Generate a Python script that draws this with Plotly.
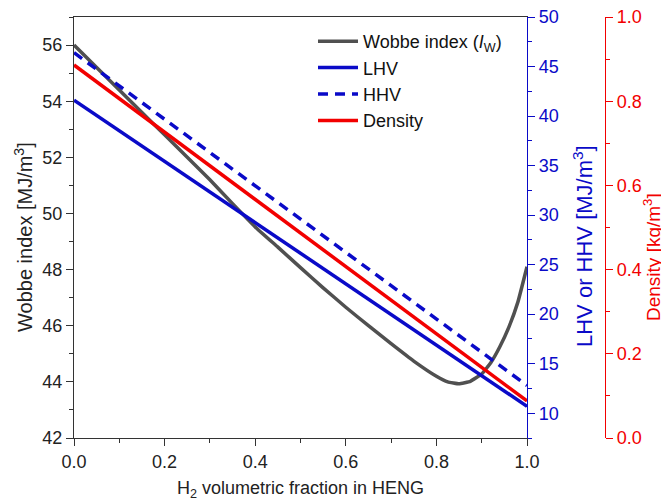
import plotly.graph_objects as go

# H2 fraction grid for Wobbe index curve
wobbe_x = [0.00, 0.05, 0.10, 0.15, 0.20, 0.25, 0.30, 0.35, 0.40, 0.45, 0.50, 0.55,
           0.60, 0.65, 0.70, 0.75, 0.80, 0.825, 0.85, 0.875, 0.90, 0.92, 0.94, 0.96, 0.98, 1.00]
wobbe_y = [56.0, 55.2, 54.4, 53.6, 52.8, 52.0, 51.2, 50.35, 49.52, 48.8, 48.07, 47.35,
           46.66, 46.0, 45.36, 44.74, 44.2, 44.0, 43.93, 44.02, 44.28, 44.68, 45.25, 45.95, 46.85, 48.1]

# straight-line series (endpoints)
frac_x = [0.0, 1.0]
lhv = [41.6, 10.7]
hhv = [46.4, 12.8]
density = [0.886, 0.088]

GREY = "#505050"
BLUE = "#0a0ac8"
RED = "#f20000"
FONT = "Liberation Sans, Arial, sans-serif"

fig = go.Figure()
fig.add_trace(go.Scatter(x=wobbe_x, y=wobbe_y, mode="lines", name="Wobbe index (<i>I</i><sub>W</sub>)",
                         line=dict(color=GREY, width=3.5, shape="spline", smoothing=0.3), yaxis="y"))
fig.add_trace(go.Scatter(x=frac_x, y=lhv, mode="lines", name="LHV",
                         line=dict(color=BLUE, width=3.5), yaxis="y2"))
fig.add_trace(go.Scatter(x=frac_x, y=hhv, mode="lines", name="HHV",
                         line=dict(color=BLUE, width=3.5, dash="10px,7px"), yaxis="y2"))
fig.add_trace(go.Scatter(x=frac_x, y=density, mode="lines", name="Density",
                         line=dict(color=RED, width=3.5), yaxis="y3"))

OFF = 8  # page body margin of the browser
W, H = 669 - OFF, 500 - OFF
# target screen pixels
S_LEFT, S_RIGHT, S_TOP, S_BOTTOM, S_RED = 74, 527, 17, 438, 605
ml = S_LEFT - OFF
mt = S_TOP - OFF
mb = H - (S_BOTTOM - OFF)
mr = 12
pw = W - ml - mr
ph = H - mt - mb
xend = (S_RIGHT - S_LEFT) / pw
redpos = (S_RED - S_LEFT) / pw


def px_x(s):
    return (s - OFF - ml) / pw


def px_y(s):
    return 1 - (s - OFF - mt) / ph


tickfont = dict(family=FONT, size=18, color="#222")
common = dict(showgrid=False, zeroline=False, automargin=False, ticks="outside", ticklen=7,
              tickwidth=1.3, ticklabeloverflow="allow")

fig.update_layout(
    width=W, height=H,
    margin=dict(l=ml, r=mr, t=mt, b=mb),
    plot_bgcolor="white", paper_bgcolor="white",
    font=dict(family=FONT, size=18, color="#222"),
    showlegend=True,
    legend=dict(x=px_x(313), y=px_y(23), xanchor="left", yanchor="top",
                font=dict(family=FONT, size=18, color="#111"), bgcolor="rgba(0,0,0,0)",
                tracegroupgap=0, itemwidth=40),
    xaxis=dict(domain=[0, xend], range=[0, 1], dtick=0.2, tick0=0, tickformat=".1f",
               showline=True, linecolor="#333", linewidth=1.3, mirror=True, tickcolor="#333",
               minor=dict(dtick=0.1, ticks="outside", ticklen=4, tickcolor="#333", tickwidth=1.3),
               tickfont=tickfont, **common),
    yaxis=dict(range=[42, 57], dtick=2, tick0=42, tickformat="d",
               showline=True, linecolor="#333", linewidth=1.3, tickcolor="#333",
               minor=dict(dtick=1, ticks="outside", ticklen=4, tickcolor="#333", tickwidth=1.3),
               tickfont=tickfont, **common),
    yaxis2=dict(overlaying="y", side="right", anchor="x", range=[7.5, 50], dtick=5, tick0=10,
                showline=True, linecolor=BLUE, linewidth=1.3, tickcolor=BLUE,
                minor=dict(dtick=2.5, ticks="outside", ticklen=4, tickcolor=BLUE, tickwidth=1.3),
                tickfont=dict(family=FONT, size=18, color=BLUE), **common),
    yaxis3=dict(overlaying="y", side="right", anchor="free", position=redpos, range=[0, 1], dtick=0.2,
                tick0=0, tickformat=".1f",
                showline=True, linecolor=RED, linewidth=1.3, tickcolor=RED,
                minor=dict(dtick=0.1, ticks="outside", ticklen=4, tickcolor=RED, tickwidth=1.3),
                tickfont=dict(family=FONT, size=18, color=RED), **common),
)

annots = [
    dict(text="H<sub>2</sub> volumetric fraction in HENG", x=px_x(300), y=px_y(489),
         font=dict(family=FONT, size=18, color="#222"), textangle=0),
    dict(text="Wobbe index [MJ/m<sup>3</sup>]", x=px_x(24), y=px_y(237),
         font=dict(family=FONT, size=20, color="#222"), textangle=-90),
    dict(text="LHV or HHV [MJ/m<sup>3</sup>]", x=px_x(583), y=px_y(246),
         font=dict(family=FONT, size=22, color=BLUE), textangle=-90),
    dict(text="Density [kg/m<sup>3</sup>]", x=px_x(652), y=px_y(257),
         font=dict(family=FONT, size=19, color=RED), textangle=-90),
]
for a in annots:
    fig.add_annotation(xref="paper", yref="paper", xanchor="center", yanchor="middle",
                       showarrow=False, **a)

fig.write_html("out.html")
